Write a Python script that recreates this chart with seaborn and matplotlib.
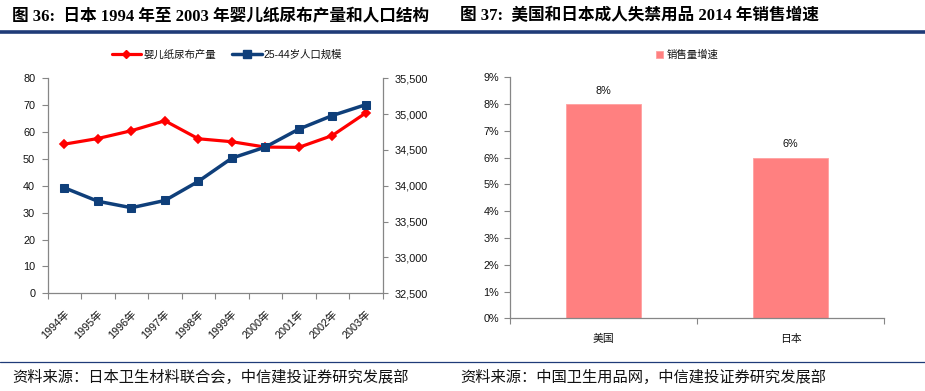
import numpy as np
import pandas as pd
import matplotlib
matplotlib.use("Agg")
import matplotlib.pyplot as plt
import seaborn as sns
from matplotlib.ticker import FixedLocator, FuncFormatter, MultipleLocator
from matplotlib.lines import Line2D

# ---------------- data ----------------
years = ["1994年", "1995年", "1996年", "1997年", "1998年",
         "1999年", "2000年", "2001年", "2002年", "2003年"]
diaper_output = [55.5, 57.6, 60.5, 64.2, 57.5, 56.4, 54.4, 54.3, 58.7, 67.1]
population_25_44 = [33972, 33784, 33694, 33795, 34062, 34386, 34540, 34791, 34980, 35132]
series_names = ["婴儿纸尿布产量", "25-44岁人口规模"]

countries = ["美国", "日本"]
sales_growth = [8, 6]
bar_series_name = "销售量增速"

title_left = "图 36:  日本 1994 年至 2003 年婴儿纸尿布产量和人口结构"
title_right = "图 37:  美国和日本成人失禁用品 2014 年销售增速"
source_left = "资料来源：日本卫生材料联合会，中信建投证券研究发展部"
source_right = "资料来源：中国卫生用品网，中信建投证券研究发展部"

# ---------------- style ----------------
sns.set_theme(style="white")
plt.rcParams["font.family"] = ["Liberation Sans", "Noto Sans CJK SC", "DejaVu Sans"]
plt.rcParams["axes.unicode_minus"] = False

W, H = 925, 391
fig = plt.figure(figsize=(W / 100, H / 100), dpi=100)
fig.patch.set_facecolor("white")

def px_axes(l, t, r, b):
    return fig.add_axes([l / W, 1 - b / H, (r - l) / W, (b - t) / H])

RED = "#FF0000"
NAVY = "#0F3F7A"
SPINE = "#868686"
TXT = "#111111"
FS = 7.8

# ---------------- left chart ----------------
ax1 = px_axes(47.7, 78.3, 382.5, 293.3)
ax2 = ax1.twinx()
df = pd.DataFrame({"year": years, "diaper": diaper_output, "pop": population_25_44})
xpos = np.arange(len(years))
sns.lineplot(x=xpos, y=df["diaper"], ax=ax1, color=RED, linewidth=2.3,
             marker="D", markersize=4.0, markeredgecolor=RED, markeredgewidth=1.2,
             label=series_names[0], sort=False)
sns.lineplot(x=xpos, y=df["pop"], ax=ax2, color=NAVY, linewidth=2.5,
             marker="s", markersize=5.8, markeredgecolor=NAVY,
             label=series_names[1], sort=False)
for a in (ax1, ax2):
    if a.get_legend():
        a.get_legend().remove()
    a.set_xlabel("")
    a.set_ylabel("")
    a.set_facecolor("none")

ax1.set_xlim(-0.5, len(years) - 0.5)
ax1.set_ylim(0, 80)
ax1.yaxis.set_major_locator(MultipleLocator(10))
ax2.set_ylim(32500, 35500)
ax2.yaxis.set_major_locator(MultipleLocator(500))
ax2.yaxis.set_major_formatter(FuncFormatter(lambda v, p: f"{int(v):,}"))

ax1.set_xticks(xpos)
ax1.set_xticklabels(years, rotation=45, ha="right", rotation_mode="anchor")
ax1.xaxis.set_minor_locator(FixedLocator(np.arange(-0.5, len(years), 1.0)))
ax1.tick_params(axis="x", which="major", length=0, pad=11, labelsize=FS, colors=TXT)
ax1.tick_params(axis="x", which="minor", length=4, width=0.8, color=SPINE, direction="out", bottom=True)
ax1.tick_params(axis="y", length=4, width=0.8, color=SPINE, direction="out", left=True,
                labelsize=FS, colors=TXT, pad=5)
ax2.tick_params(axis="y", length=3.5, width=0.8, color=SPINE, direction="out", right=True,
                labelsize=FS, colors=TXT, pad=5.5)
for a in (ax1, ax2):
    a.spines["top"].set_visible(False)
    for s in ("left", "bottom", "right"):
        a.spines[s].set_color(SPINE)
        a.spines[s].set_linewidth(0.9)
ax1.spines["right"].set_visible(False)
ax2.spines["left"].set_visible(False)
ax2.spines["bottom"].set_visible(False)

handles = [Line2D([], [], color=RED, lw=2.3, marker="D", markersize=4.0),
           Line2D([], [], color=NAVY, lw=2.5, marker="s", markersize=5.8)]
fig.legend(handles, series_names, loc="center", bbox_to_anchor=(227 / W, 1 - 55 / H),
           ncol=2, frameon=False, fontsize=7.5, handlelength=2.8, columnspacing=1.6,
           handletextpad=0.2, labelcolor=TXT)

# ---------------- right chart ----------------
ax3 = px_axes(510, 77.3, 884.3, 318.3)
bdf = pd.DataFrame({"country": countries, "growth": sales_growth})
sns.barplot(data=bdf, x="country", y="growth", ax=ax3, color="#FF8080",
            width=0.4, saturation=1, label=bar_series_name, edgecolor="#FFA0A0", linewidth=0.6)
ax3.set_xlabel("")
ax3.set_ylabel("")
ax3.set_xlim(-0.5, 1.5)
ax3.set_ylim(0, 9)
ax3.yaxis.set_major_locator(MultipleLocator(1))
ax3.yaxis.set_major_formatter(FuncFormatter(lambda v, p: f"{int(round(v))}%"))
ax3.xaxis.set_minor_locator(FixedLocator([-0.5, 0.5, 1.5]))
ax3.tick_params(axis="x", which="major", length=0, pad=11, labelsize=FS, colors=TXT)
ax3.tick_params(axis="x", which="minor", length=4, width=0.8, color=SPINE, direction="out", bottom=True)
ax3.tick_params(axis="y", length=4, width=0.8, color=SPINE, direction="out", left=True,
                labelsize=FS, colors=TXT, pad=4)
for s in ("top", "right"):
    ax3.spines[s].set_visible(False)
for s in ("left", "bottom"):
    ax3.spines[s].set_color(SPINE)
    ax3.spines[s].set_linewidth(0.9)
ax3.bar_label(ax3.containers[0], labels=[f"{v:.0f}%" for v in sales_growth],
              padding=6, fontsize=FS, color=TXT)
if ax3.get_legend():
    ax3.get_legend().remove()
bh, bl = ax3.get_legend_handles_labels()
fig.legend(bh[:1], [bar_series_name], loc="center", bbox_to_anchor=(687 / W, 1 - 55 / H),
           frameon=False, fontsize=7.5, handlelength=0.7, handleheight=0.7,
           handletextpad=0.3, labelcolor=TXT)

# ---------------- titles, rules, sources ----------------
tfam = ["Liberation Serif", "Noto Sans CJK SC"]
fig.text(12 / W, 1 - 16 / H, title_left, fontsize=12, fontweight="bold",
         family=tfam, ha="left", va="center", color="#000000")
fig.text(460 / W, 1 - 16 / H, title_right, fontsize=12, fontweight="bold",
         family=tfam, ha="left", va="center", color="#000000")
fig.add_artist(Line2D([0, 1], [1 - 32 / H, 1 - 32 / H], transform=fig.transFigure,
                      color="#1F3B78", lw=2.6))
fig.add_artist(Line2D([0, 1], [1 - 362 / H, 1 - 362 / H], transform=fig.transFigure,
                      color="#1F3B78", lw=0.9))
sfam = ["Noto Sans CJK SC"]
fig.text(12 / W, 1 - 377 / H, source_left, fontsize=11, family=sfam, style="italic",
         ha="left", va="center", color="#111111")
fig.text(460 / W, 1 - 377 / H, source_right, fontsize=11, family=sfam, style="italic",
         ha="left", va="center", color="#111111")

fig.savefig("out.png", dpi=100, facecolor="white")
